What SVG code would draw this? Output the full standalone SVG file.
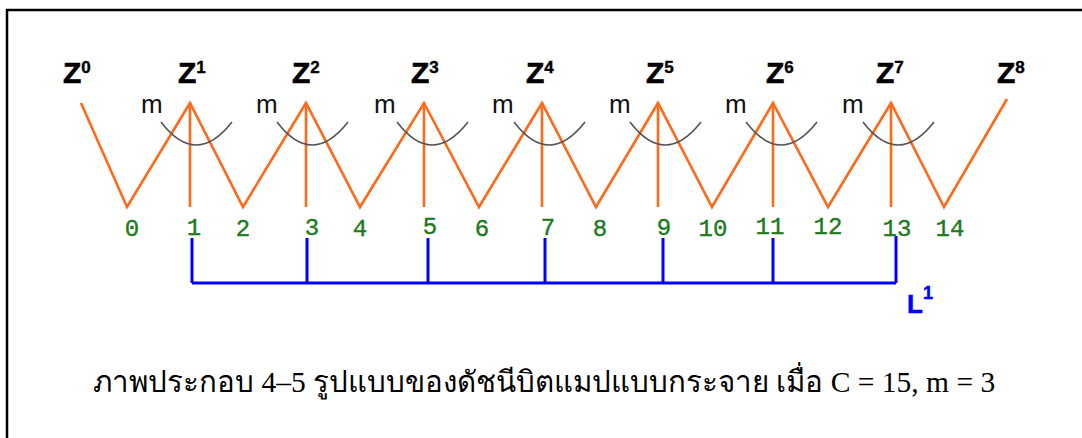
<svg xmlns="http://www.w3.org/2000/svg" width="1082" height="438" viewBox="0 0 1082 438">
<style>
.z{font-family:"Liberation Sans",Arial,sans-serif;font-weight:bold;font-size:30px;fill:#000;stroke:#000;stroke-width:0.6}
.sup{font-size:17px;stroke-width:0.4}
.m{font-family:"Liberation Sans",Arial,sans-serif;font-size:26px;fill:#111}
.n{font-family:"Liberation Mono","Courier New",monospace;font-size:24px;fill:#1e7a1e;stroke:#1e7a1e;stroke-width:0.4;text-anchor:middle}
.or{stroke:#ff6a1a;stroke-width:2.6;fill:none;stroke-linejoin:miter}
.arc{stroke:#555;stroke-width:1.6;fill:none}
.bl{stroke:#0000ff;stroke-width:3;fill:none}
.cap{font-family:"Liberation Serif","DejaVu Serif",serif;font-size:29.5px;fill:#000}
</style>
<rect width="1082" height="438" fill="#fff"/>
<path d="M7,438 V10 H1082" stroke="#000" stroke-width="2.5" fill="none"/>
<g id="connectors">
<polyline class="or" points="81,103 127,207 190,103 243,207 306,103 360,207 424,103 479,207 542,103 596,207 658,103 712,207 773,103 828,207 891,103 944,207 1007,99"/>
<path class="or" d="M190,103V207M306,103V207M424,103V207M542,103V207M658,103V207M773,103V207M891,103V207"/>
<g class="arc">
<path d="M161,122 Q196,168 232,122"/>
<path d="M277,122 Q312,168 348,122"/>
<path d="M397,122 Q432,168 468,122"/>
<path d="M514,122 Q549,168 585,122"/>
<path d="M630,122 Q665,168 701,122"/>
<path d="M746,122 Q781,168 817,122"/>
<path d="M863,122 Q898,168 934,122"/>
</g>
<path class="bl" d="M192,238V283M307,238V283M428,238V283M545,238V283M663,238V283M773,238V283M896,236V283M192,283H896"/>
</g>
<g id="z-labels">
<text class="z" x="63" y="83">Z<tspan class="sup" dy="-10">0</tspan></text>
<text class="z" x="178" y="83">Z<tspan class="sup" dy="-10">1</tspan></text>
<text class="z" x="292" y="83">Z<tspan class="sup" dy="-10">2</tspan></text>
<text class="z" x="411" y="83">Z<tspan class="sup" dy="-10">3</tspan></text>
<text class="z" x="526" y="83">Z<tspan class="sup" dy="-10">4</tspan></text>
<text class="z" x="646" y="83">Z<tspan class="sup" dy="-10">5</tspan></text>
<text class="z" x="766" y="83">Z<tspan class="sup" dy="-10">6</tspan></text>
<text class="z" x="876" y="83">Z<tspan class="sup" dy="-10">7</tspan></text>
<text class="z" x="997" y="83">Z<tspan class="sup" dy="-10">8</tspan></text>
</g>
<g id="m-labels">
<text class="m" x="141" y="113">m</text>
<text class="m" x="256" y="113">m</text>
<text class="m" x="374" y="113">m</text>
<text class="m" x="492" y="113">m</text>
<text class="m" x="609" y="113">m</text>
<text class="m" x="725" y="113">m</text>
<text class="m" x="842" y="113">m</text>
</g>
<g id="numbers">
<text class="n" x="132" y="236">0</text>
<text class="n" x="194" y="235">1</text>
<text class="n" x="243" y="236">2</text>
<text class="n" x="312" y="235">3</text>
<text class="n" x="360" y="236">4</text>
<text class="n" x="430" y="234">5</text>
<text class="n" x="482" y="236">6</text>
<text class="n" x="548" y="235">7</text>
<text class="n" x="600" y="236">8</text>
<text class="n" x="664" y="235">9</text>
<text class="n" x="713" y="236">10</text>
<text class="n" x="770" y="234">11</text>
<text class="n" x="828" y="234">12</text>
<text class="n" x="897" y="236">13</text>
<text class="n" x="950" y="236">14</text>
</g>
<g id="l1">
<text x="907" y="313" style="font-family:'Liberation Sans',Arial,sans-serif;font-weight:bold;font-size:26px;fill:#0000ff;stroke:#0000ff;stroke-width:0.5">L<tspan font-size="18" dy="-14">1</tspan></text>
</g>
<g id="caption">
<text class="cap" x="93" y="392">ภาพประกอบ 4–5 รูปแบบของดัชนีบิตแมปแบบกระจาย เมื่อ C = 15, m = 3</text>
</g>
</svg>
